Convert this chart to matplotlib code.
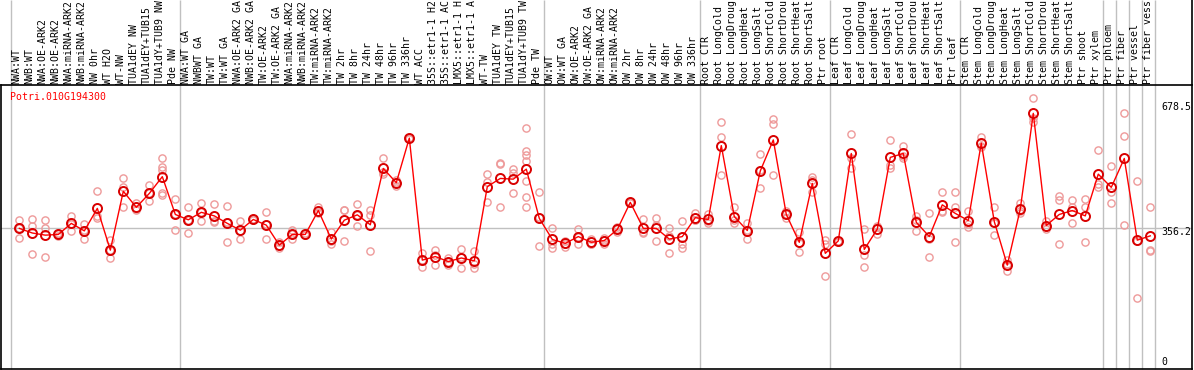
import matplotlib
matplotlib.use("Agg")
import matplotlib.pyplot as plt

# sample labels, one per column (as far as they show in the label band)
labels = [
    "NWA:WT", "NWB:WT", "NWA:OE-ARK2", "NWB:OE-ARK2", "NWA:miRNA-ARK2", "NWB:miRNA-ARK2",
    "NW 0hr", "WT H2O", "WT-NW", "TUA1dEY NW", "TUA1dEY+TUB15", "TUA1dY+TUB9 NW", "Pde NW",
    "NWA:WT GA", "NWBWT GA", "TW:WT", "TW:WT GA", "NWA:OE-ARK2 GA", "NWB:OE-ARK2 GA",
    "TW:OE-ARK2", "TW:OE-ARK2 GA", "NWA:miRNA-ARK2", "NWB:miRNA-ARK2", "TW:miRNA-ARK2",
    "TW:miRNA-ARK2", "TW 2hr", "TW 8hr", "TW 24hr", "TW 48hr", "TW 96hr", "TW 336hr",
    "WT ACC", "35S::etr1-1 H2", "35S::etr1-1 AC", "LMX5::etr1-1 H", "LMX5::etr1-1 A",
    "WT-TW", "TUA1dEY TW", "TUA1dEY+TUB15", "TUA1dY+TUB9 TW", "Pde TW",
    "OW:WT", "OW:WT GA", "OW:OE-ARK2", "OW:OE-ARK2 GA", "OW:miRNA-ARK2", "OW:miRNA-ARK2",
    "OW 2hr", "OW 8hr", "OW 24hr", "OW 48hr", "OW 96hr", "OW 336hr",
    "Root CTR", "Root LongCold", "Root LongDroug", "Root LongHeat", "Root LongSalt",
    "Root ShortCold", "Root ShortDrou", "Root ShortHeat", "Root ShortSalt", "Ptr root",
    "Leaf CTR", "Leaf LongCold", "Leaf LongDroug", "Leaf LongHeat", "Leaf LongSalt",
    "Leaf ShortCold", "Leaf ShortDrou", "Leaf ShortHeat", "Leaf ShortSalt", "Ptr leaf",
    "Stem CTR", "Stem LongCold", "Stem LongDroug", "Stem LongHeat", "Stem LongSalt",
    "Stem ShortCold", "Stem ShortDrou", "Stem ShortHeat", "Stem ShortSalt", "Ptr shoot",
    "Ptr xylem", "Ptr phloem", "Ptr fiber", "Ptr vessel", "Ptr fiber vess",
]

means = [
    356, 343, 337, 339, 370, 349, 412, 295, 460, 415, 454, 501, 395,
    380, 401, 391, 370, 351, 381, 365, 309, 339, 339, 406, 326, 379, 394, 366,
    524, 484, 609, 267, 277, 263, 273, 265, 473, 496, 494, 522, 384,
    325, 314, 333, 317, 322, 353, 429, 356, 356, 326, 333, 386,
    381, 588, 389, 350, 517, 604, 395, 317, 482, 286,
    321, 566, 297, 354, 555, 566, 373, 333, 422, 398,
    378, 595, 375, 253, 410, 678.5, 364, 395, 406, 391,
    508, 471, 552, 323, 335,
]

replicates = [
    [380, 358, 328], [381, 363, 284], [380, 356, 275], [336, 339, 342], [392, 350, 368],
    [368, 325, 351], [461, 390, 385], [323, 272, 295], [497, 471, 415], [426, 410, 408],
    [477, 434, 454], [552, 527, 520, 456, 450], [438, 351, 395],
    [415, 342, 380], [426, 401, 377], [424, 376, 373], [420, 317, 374], [377, 326, 349],
    [383, 380, 381], [401, 326, 367], [319, 300, 307], [351, 326, 341], [342, 338, 338],
    [416, 398, 402], [345, 311, 322], [407, 321, 408], [424, 363, 394], [407, 394, 293],
    [552, 508, 513], [492, 476, 485], [610, 607, 608], [286, 249, 267], [295, 253, 281],
    [263, 253, 272], [298, 244, 277], [293, 244, 257], [508, 487, 431], [536, 538, 415],
    [522, 510, 454], [637, 574, 562, 545, 490, 443, 415], [457, 307, 388],
    [356, 302, 311], [321, 305, 311], [354, 311, 333], [326, 311, 313], [330, 311, 323],
    [361, 347, 353], [431, 428, 429], [381, 342, 345], [384, 321, 366], [358, 286, 335],
    [377, 311, 300], [398, 380, 380],
    [396, 370, 378], [653, 611, 506], [417, 370, 380], [370, 326, 352], [564, 468, 519],
    [662, 648, 506], [405, 386, 396], [347, 291, 314], [501, 492, 457], [323, 311, 223],
    [322, 319, 320], [620, 552, 524], [354, 281, 249], [364, 339, 360], [604, 534, 526],
    [587, 552, 560], [391, 350, 379], [398, 275, 325], [457, 401, 406], [459, 417, 317],
    [405, 367, 361], [611, 585, 587], [417, 338, 370], [267, 237, 256], [426, 398, 404],
    [721, 665, 655], [377, 354, 360], [448, 436, 311], [436, 417, 370], [438, 417, 317],
    [576, 480, 473], [530, 426, 457], [679, 615, 366], [489, 160, 321], [415, 293, 295],
]

# group boundaries: a separator line sits just right of these columns
group_ends = [-1, 12, 40, 52, 62, 72, 83, 84, 85, 86, 87]
gene = "Potri.010G194300"
ref_value = 356.2
tick_values = ["678.5", "356.2", "0"]

W, H = 1194, 370
mono = "DejaVu Sans Mono"
fs = 7.1

fig = plt.figure(figsize=(W / 100, H / 100), dpi=100)
ax_top, ax_bot = 85, 369
ax = fig.add_axes([1 / W, 1 - ax_bot / H, 1191 / W, (ax_bot - ax_top) / H])
ax.set_xlim(-1.41, 90.21)
ax.set_ylim(-38.2, 757.9)
ax.set_xticks([])
ax.set_yticks([])
for s in ax.spines.values():
    s.set_linewidth(1.2)
    s.set_color("black")

x = list(range(len(means)))

ax.axhline(ref_value, color="#c0c0c0", lw=1, zorder=1)
label_h = ax_top / (ax_bot - ax_top)
ax.vlines([g + 0.36 for g in group_ends], 0, 1 + label_h,
          transform=ax.get_xaxis_transform(), color="#c0c0c0", lw=1,
          clip_on=False, zorder=1)
# right border continues through the label band
ax.vlines([1], 1, 1 + label_h, transform=ax.transAxes, color="black",
          lw=1.2, clip_on=False)

for i, reps in enumerate(replicates):
    ax.plot([i] * len(reps), reps, linestyle="none", marker="o", ms=5.2,
            mfc="none", mec="#ee9a9a", mew=1.0, zorder=2)

ax.plot(x, means, color="red", lw=1.0, zorder=3)
ax.plot(x, means, linestyle="none", marker="o", ms=6.5, mfc="none",
        mec="#d80000", mew=1.4, zorder=4)

for i, lab in enumerate(labels):
    ax.text(i - 0.19, 1 + 1.5 / (ax_bot - ax_top), lab, rotation=90,
            transform=ax.get_xaxis_transform(), ha="center", va="bottom",
            family=mono, fontsize=fs, clip_on=False)

fig.text(10 / W, 1 - 97 / H, gene, color="red", family=mono, fontsize=fs,
         ha="left", va="center")
for txt, yp in zip(tick_values, [107, 232, 362]):
    fig.text(1161 / W, 1 - yp / H, txt, family=mono, fontsize=fs,
             ha="left", va="center")

fig.savefig("out.png", dpi=100)
